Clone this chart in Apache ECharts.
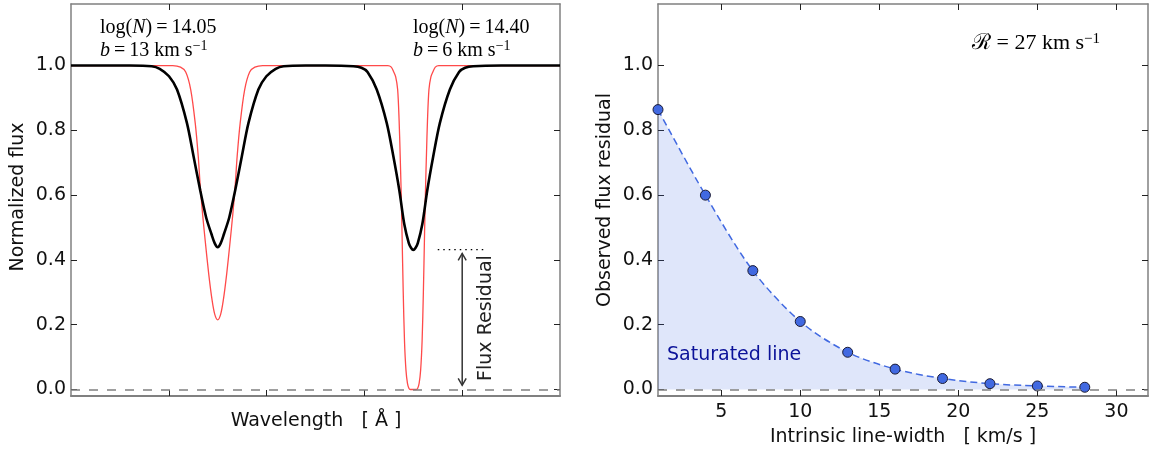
<!DOCTYPE html>
<html><head><meta charset="utf-8">
<script src="https://cdn.jsdelivr.net/npm/echarts@6/dist/echarts.min.js"></script>
<style>html,body{margin:0;padding:0;background:#fff}#c{width:1153px;height:453px}</style>
</head><body><div id="c"></div>
<script>
// ---------- Left panel: line profiles [wavelength (arb.), normalized flux] ----------
const intrinsicProfile = [
  [0,1.0],[0.6,1.0],[1.04,1.0],[1.12,0.995],[1.173,0.98],[1.224,0.926],[1.27,0.823],[1.301,0.72],[1.321,0.63],
  [1.346,0.54],[1.372,0.46],[1.408,0.357],[1.443,0.275],[1.47,0.232],[1.5,0.215],[1.53,0.232],[1.557,0.275],
  [1.592,0.357],[1.628,0.46],[1.654,0.54],[1.679,0.63],[1.699,0.72],[1.73,0.823],[1.776,0.926],[1.827,0.98],
  [1.88,0.995],[1.96,1.0],[2.6,1.0],[3.24,1.0],[3.275,0.995],[3.3,0.98],[3.32,0.965],[3.34,0.926],[3.355,0.83],
  [3.365,0.73],[3.375,0.62],[3.385,0.48],[3.397,0.3],[3.41,0.15],[3.425,0.06],[3.44,0.02],[3.455,0.004],
  [3.47,0.0],[3.53,0.0],[3.545,0.004],[3.56,0.02],[3.575,0.06],[3.59,0.15],[3.603,0.3],[3.615,0.48],
  [3.625,0.62],[3.635,0.73],[3.645,0.83],[3.66,0.926],[3.68,0.965],[3.7,0.98],[3.725,0.995],[3.76,1.0],
  [4.4,1.0],[5,1.0]
];
const observedProfile = [
  [0,1.0],[0.6,1.0],[0.825,0.998],[0.907,0.99],[1.002,0.967],[1.084,0.926],[1.185,0.823],[1.253,0.72],
  [1.321,0.615],[1.382,0.531],[1.436,0.48],[1.47,0.451],[1.5,0.439],[1.53,0.451],[1.564,0.48],[1.618,0.531],
  [1.679,0.615],[1.747,0.72],[1.815,0.823],[1.916,0.926],[1.998,0.967],[2.093,0.99],[2.175,0.998],[2.4,1.0],
  [2.6,1.0],[2.887,0.998],[2.97,0.993],[3.032,0.98],[3.126,0.926],[3.228,0.823],[3.296,0.72],[3.357,0.615],
  [3.408,0.51],[3.454,0.452],[3.478,0.437],[3.5,0.431],[3.522,0.437],[3.546,0.452],[3.592,0.51],[3.643,0.615],
  [3.704,0.72],[3.772,0.823],[3.874,0.926],[3.968,0.98],[4.03,0.993],[4.113,0.998],[4.4,1.0],[5,1.0]
];
const residualLevel = [[3.75,0.432],[4.23,0.432]];
const residualArrow = [[4,0.013,0.42]];
const leftXTicks = [1,2,3,4];
const lineLabels = [
  {logN:'14.05', b:'13'},
  {logN:'14.40', b:'6'}
];

// ---------- Right panel ----------
const lineWidths = [1,4,7,10,13,16,19,22,25,28];
const residuals  = [0.864,0.600,0.367,0.210,0.115,0.063,0.034,0.018,0.011,0.007];
const rightXTicks = [5,10,15,20,25,30];
const yTicks = [0,0.2,0.4,0.6,0.8,1.0];

const chart = echarts.init(document.getElementById('c'));
const FRAME = '#808080', TICK = '#222', TXT = '#111';
const sansFont = "'DejaVu Sans', sans-serif";
const serifFont = "'Liberation Serif', 'DejaVu Serif', serif";
const FS = 19;

function xAx(grid, pos, min, max, ticks, labels, lineW) {
  return {
    type:'value', gridIndex:grid, position:pos, min:min, max:max,
    axisLine:{show:true, onZero:false, lineStyle:{color:FRAME, width:lineW}},
    axisTick:{show:true, inside:true, length:6, customValues:ticks, lineStyle:{color:TICK, width:1}},
    axisLabel:{show:labels, customValues:ticks, margin:7, color:TXT, fontSize:FS, fontFamily:sansFont},
    splitLine:{show:false}
  };
}
function yAx(grid, pos, labels) {
  return {
    type:'value', gridIndex:grid, position:pos, min:-0.02, max:1.19,
    axisLine:{show:true, onZero:false, lineStyle:{color:FRAME, width:1.5}},
    axisTick:{show:true, inside:true, length:6, customValues:yTicks, lineStyle:{color:TICK, width:1}},
    axisLabel:{show:labels, customValues:yTicks, margin:5, color:TXT, fontSize:FS, fontFamily:sansFont,
      formatter:v=>Number(v).toFixed(1)},
    splitLine:{show:false}
  };
}

const zeroLine = {silent:true, symbol:'none', label:{show:false},
  lineStyle:{color:'#808080', width:1.5, type:[9,9]}, data:[{yAxis:0}]};

const mathRich = {
  n:{fontFamily:serifFont, fontSize:20, color:TXT},
  i:{fontFamily:serifFont, fontSize:20, fontStyle:'italic', color:TXT},
  s:{fontFamily:serifFont, fontSize:14, color:TXT, verticalAlign:'top'}
};
function labelText(l){
  return '{n|log(}{i|N}{n|)\u2009=\u2009' + l.logN + '}\n{i|b}{n|\u2009=\u2009' + l.b + ' km s}{s|\u22121}';
}

chart.setOption({
  animation:false,
  grid:[{left:71, top:4, width:489, height:392},{left:658, top:4, width:490, height:392}],
  xAxis:[
    xAx(0,'bottom',0,5,leftXTicks,false,2),
    xAx(0,'top',0,5,leftXTicks,false,1.5),
    xAx(1,'bottom',1,32,rightXTicks,true,2),
    xAx(1,'top',1,32,rightXTicks,false,1.5)
  ],
  yAxis:[ yAx(0,'left',true), yAx(0,'right',false), yAx(1,'left',true), yAx(1,'right',false) ],
  series:[
    {type:'line', xAxisIndex:0, yAxisIndex:0, data:intrinsicProfile, smooth:0.3,
      showSymbol:false, lineStyle:{color:'#ff4a4a', width:1.3}, z:2},
    {type:'line', xAxisIndex:0, yAxisIndex:0, data:observedProfile, smooth:0.3,
      showSymbol:false, lineStyle:{color:'#000', width:2.6}, z:3},
    {type:'line', xAxisIndex:0, yAxisIndex:0, data:residualLevel, showSymbol:false,
      lineStyle:{color:'#000', width:1.3, type:[1.5,4]}, markLine:zeroLine, z:4},
    {type:'custom', xAxisIndex:0, yAxisIndex:0, data:residualArrow, z:5,
      renderItem:function(params, api){
        const x = api.value(0);
        const p0 = api.coord([x, api.value(1)]);
        const p1 = api.coord([x, api.value(2)]);
        const w = 4, h = 7, st = {stroke:'#333', lineWidth:1.5, fill:null};
        return {type:'group', children:[
          {type:'line', shape:{x1:p0[0], y1:p0[1], x2:p1[0], y2:p1[1]}, style:st},
          {type:'polyline', shape:{points:[[p1[0]-w,p1[1]+h],[p1[0],p1[1]],[p1[0]+w,p1[1]+h]]}, style:st},
          {type:'polyline', shape:{points:[[p0[0]-w,p0[1]-h],[p0[0],p0[1]],[p0[0]+w,p0[1]-h]]}, style:st}
        ]};
      }},
    {type:'line', xAxisIndex:2, yAxisIndex:2, data:lineWidths.map((x,i)=>[x,residuals[i]]),
      smooth:0.3, symbol:'circle', symbolSize:10, showSymbol:true,
      itemStyle:{color:'#4169E1', borderColor:'#1a1a33', borderWidth:1},
      lineStyle:{color:'#4169E1', width:1.5, type:[7,4]},
      areaStyle:{color:'rgba(65,105,225,0.24)'}, z:3},
    {type:'line', xAxisIndex:2, yAxisIndex:2, data:[], markLine:zeroLine, z:4}
  ],
  graphic:[
    {type:'text', x:100, y:16, style:{text:labelText(lineLabels[0]), rich:mathRich, lineHeight:23}},
    {type:'text', x:413, y:16, style:{text:labelText(lineLabels[1]), rich:mathRich, lineHeight:23}},
    {type:'text', x:972, y:32, style:{text:'{n|\u211B = 27 km s}{s|\u22121}', rich:{
      n:{fontFamily:serifFont, fontSize:22, color:TXT},
      s:{fontFamily:serifFont, fontSize:15, color:TXT, verticalAlign:'top'}}}},
    {type:'text', x:667, y:355, style:{text:'Saturated line', fill:'#00008b', fontSize:FS, fontFamily:sansFont,
      textVerticalAlign:'middle'}},
    {type:'text', x:486, y:318, rotation:Math.PI/2, style:{text:'Flux Residual', fill:'#222', fontSize:FS,
      fontFamily:sansFont, textAlign:'center', textVerticalAlign:'middle'}},
    {type:'text', x:18, y:197, rotation:Math.PI/2, style:{text:'Normalized flux', fill:TXT, fontSize:FS,
      fontFamily:sansFont, textAlign:'center', textVerticalAlign:'middle'}},
    {type:'text', x:605, y:200, rotation:Math.PI/2, style:{text:'Observed flux residual', fill:TXT, fontSize:FS,
      fontFamily:sansFont, textAlign:'center', textVerticalAlign:'middle'}},
    {type:'text', x:316, y:421, style:{text:'Wavelength   [ \u00C5 ]', fill:TXT, fontSize:FS,
      fontFamily:sansFont, textAlign:'center', textVerticalAlign:'middle'}},
    {type:'text', x:903, y:437, style:{text:'Intrinsic line-width   [ km/s ]', fill:TXT, fontSize:FS,
      fontFamily:sansFont, textAlign:'center', textVerticalAlign:'middle'}}
  ]
});
</script></body></html>
